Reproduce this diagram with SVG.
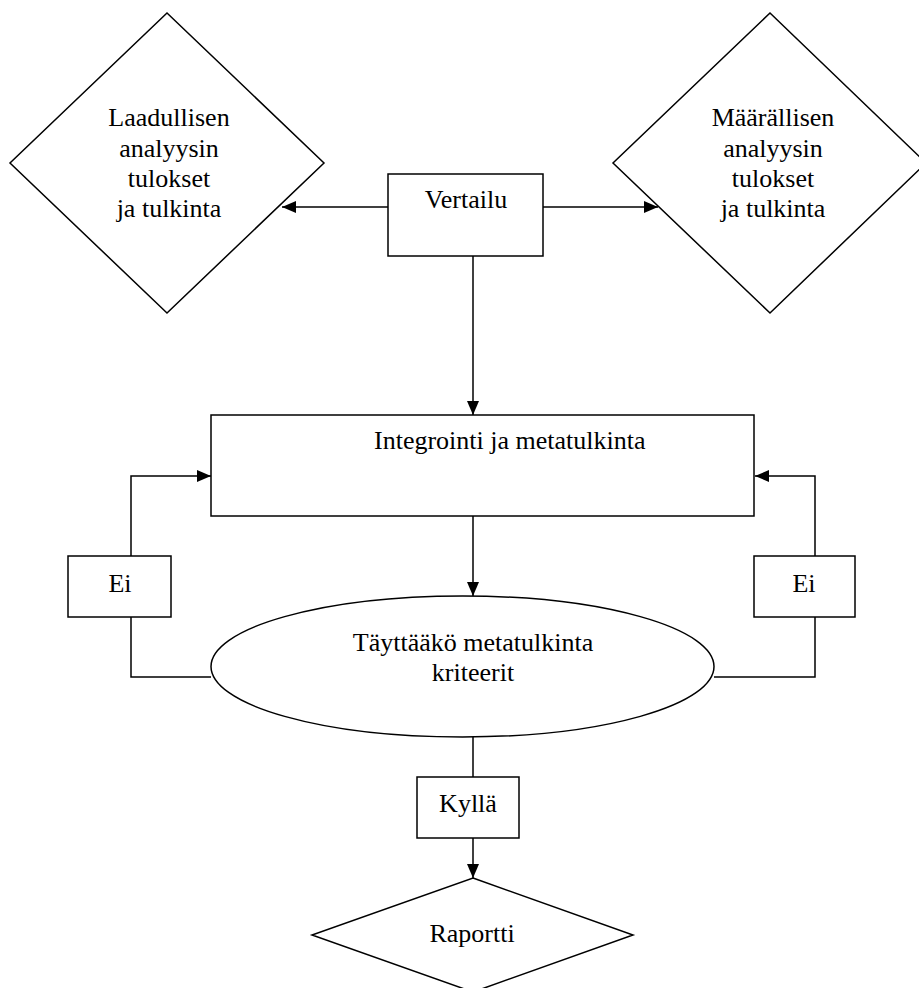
<svg xmlns="http://www.w3.org/2000/svg" width="919" height="988" viewBox="0 0 919 988">
  <style>
    .shape { fill: #ffffff; stroke: #000000; stroke-width: 1.5; }
    .link { fill: none; stroke: #000000; stroke-width: 1.5; }
    .arrow { marker-end: url(#head); }
    text { font-family: "Liberation Serif", "Times New Roman", serif; font-size: 26px; fill: #000000; }
    .c { text-anchor: middle; }
  </style>
  <defs>
    <marker id="head" markerUnits="userSpaceOnUse" markerWidth="14" markerHeight="12" refX="14" refY="6" orient="auto">
      <path d="M0,0 L14,6 L0,12 Z" fill="#000000"/>
    </marker>
  </defs>

  <rect width="919" height="988" fill="#ffffff"/>

  <!-- connectors -->
  <g id="connectors">
    <line class="link arrow" x1="388" y1="207" x2="282" y2="207"/>
    <line class="link arrow" x1="543" y1="207" x2="658" y2="207"/>
    <line class="link arrow" x1="473" y1="256" x2="473" y2="415"/>
    <line class="link arrow" x1="473" y1="516" x2="473" y2="596"/>
    <polyline class="link" points="211,677 131,677 131,617"/>
    <polyline class="link arrow" points="131,556 131,476 211,476"/>
    <polyline class="link" points="714,677 815,677 815,617"/>
    <polyline class="link arrow" points="815,556 815,476 755,476"/>
    <line class="link" x1="473" y1="737" x2="473" y2="777"/>
    <line class="link arrow" x1="473" y1="838" x2="473" y2="878"/>
  </g>

  <!-- qualitative results -->
  <g id="laadullinen">
    <polygon class="shape" points="167,13 324,163 167,313 10,163"/>
    <text class="c" x="169" y="126">Laadullisen</text>
    <text class="c" x="169" y="157">analyysin</text>
    <text class="c" x="169" y="187">tulokset</text>
    <text class="c" x="169" y="217">ja tulkinta</text>
  </g>

  <!-- quantitative results -->
  <g id="maarallinen">
    <polygon class="shape" points="770,13 926,163 770,313 613,163"/>
    <text class="c" x="773" y="126">Määrällisen</text>
    <text class="c" x="773" y="157">analyysin</text>
    <text class="c" x="773" y="187">tulokset</text>
    <text class="c" x="773" y="217">ja tulkinta</text>
  </g>

  <g id="vertailu">
    <rect class="shape" x="388" y="174" width="155" height="82"/>
    <text class="c" x="466" y="208">Vertailu</text>
  </g>

  <g id="integrointi">
    <rect class="shape" x="211" y="415" width="543" height="101"/>
    <text x="374" y="449">Integrointi ja metatulkinta</text>
  </g>

  <g id="kriteerit">
    <ellipse class="shape" cx="462.5" cy="666.5" rx="251.5" ry="70.5"/>
    <text class="c" x="473" y="651">Täyttääkö metatulkinta</text>
    <text class="c" x="473" y="681">kriteerit</text>
  </g>

  <g id="ei-vasen">
    <rect class="shape" x="68" y="556" width="103" height="61"/>
    <text class="c" x="120" y="592">Ei</text>
  </g>

  <g id="ei-oikea">
    <rect class="shape" x="754" y="556" width="101" height="61"/>
    <text class="c" x="804" y="592">Ei</text>
  </g>

  <g id="kylla">
    <rect class="shape" x="417" y="777" width="102" height="61"/>
    <text class="c" x="468" y="812">Kyllä</text>
  </g>

  <g id="raportti">
    <polygon class="shape" points="473,878 633,935 473,992 312,935"/>
    <text class="c" x="472" y="942">Raportti</text>
  </g>
</svg>
